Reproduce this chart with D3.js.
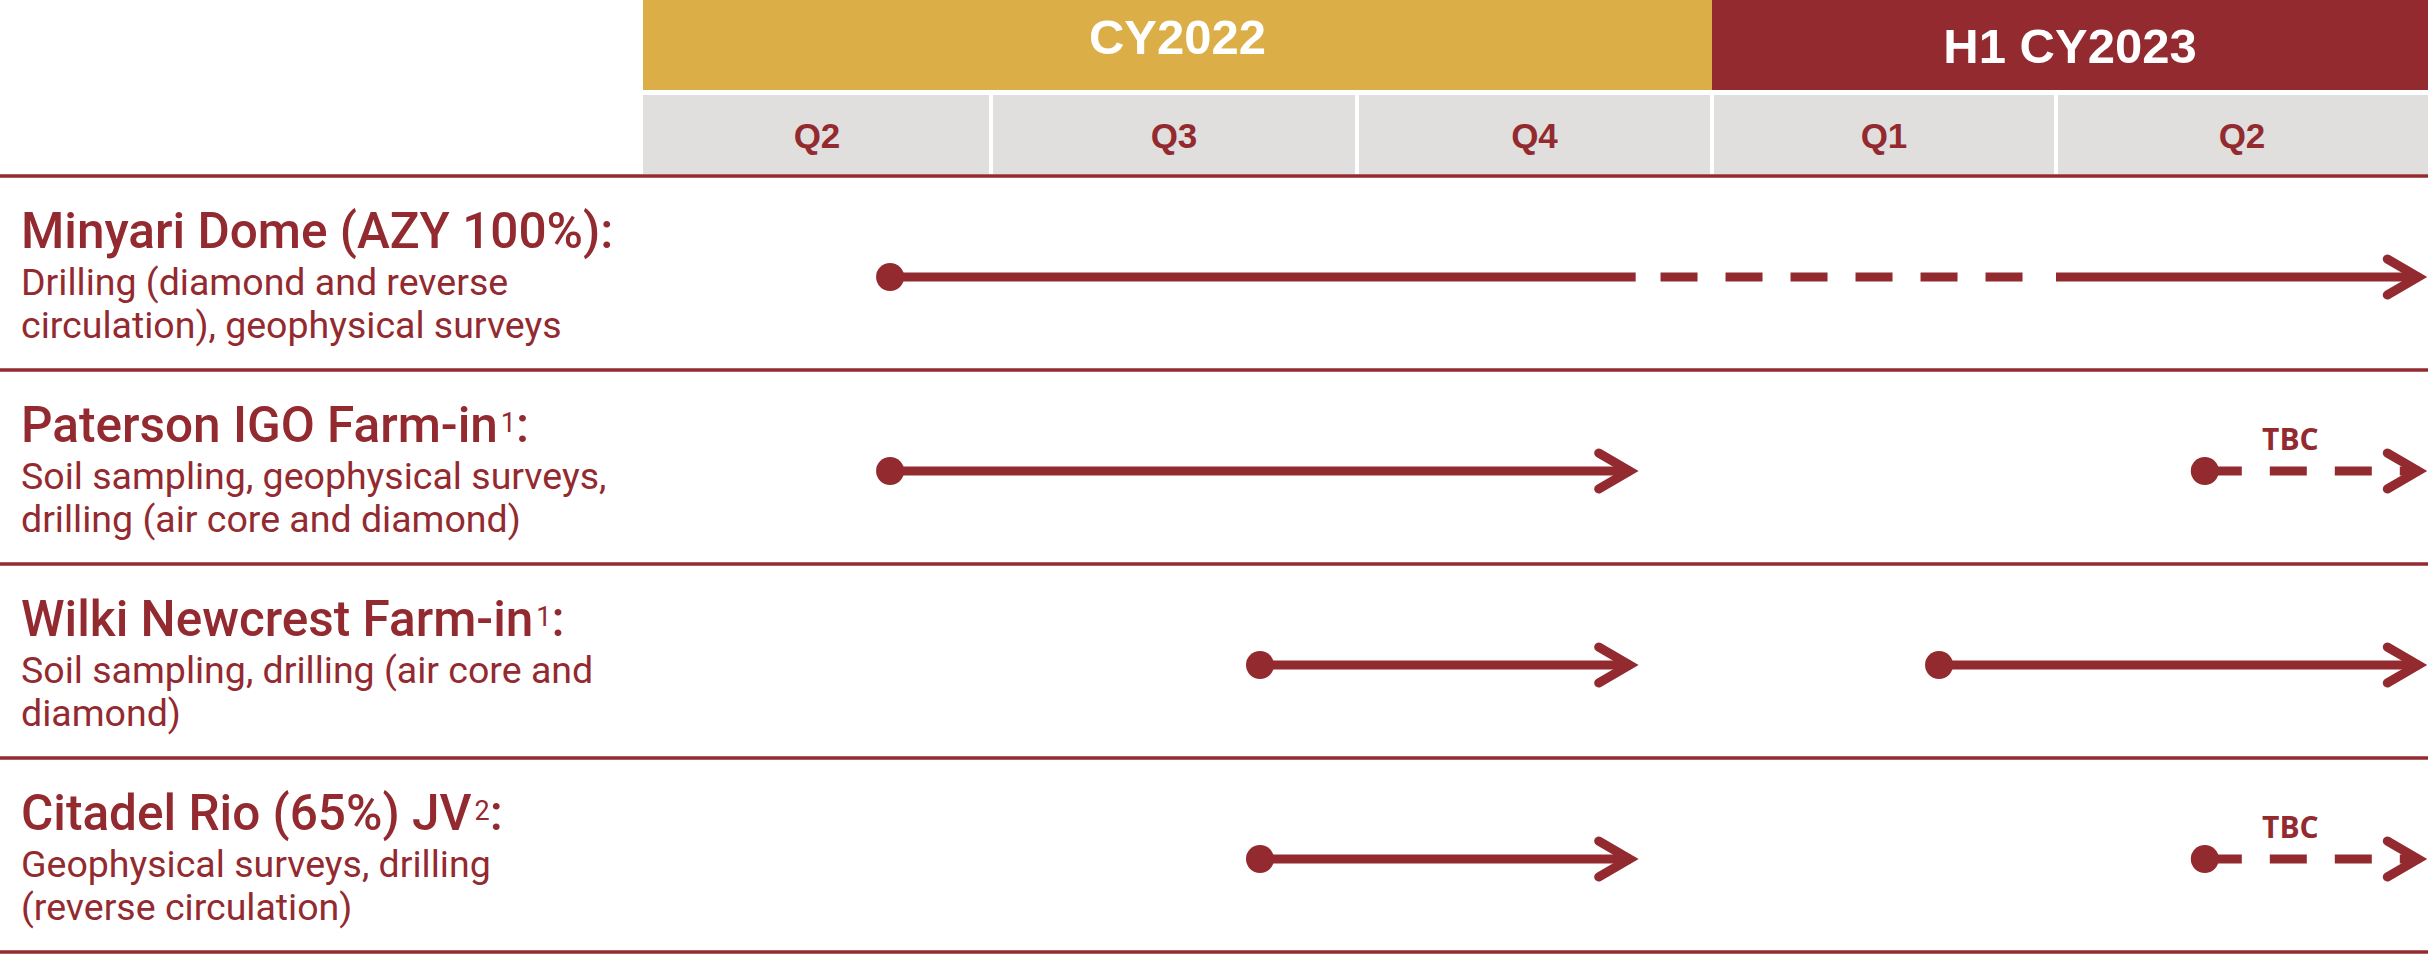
<!DOCTYPE html>
<html>
<head>
<meta charset="utf-8">
<script src="https://cdn.jsdelivr.net/npm/d3@7"></script>
<style>
  body { margin: 0; background: #fff; }
  svg { display: block; }
</style>
</head>
<body>
<div id="chart"><svg></svg></div>
<script>
// ---- data ----
var periods = ["CY2022", "H1 CY2023"];
var periodSpans = [[0, 3], [3, 5]];           // in quarter units
var quarters = ["Q2", "Q3", "Q4", "Q1", "Q2"];

var projects = ["Minyari Dome (AZY 100%)", "Paterson IGO Farm-in", "Wilki Newcrest Farm-in", "Citadel Rio (65%) JV"];
var footnotes = ["", "1", "1", "2"];
var descriptions = [
	["Drilling (diamond and reverse", "circulation), geophysical surveys"],
	["Soil sampling, geophysical surveys,", "drilling (air core and diamond)"],
	["Soil sampling, drilling (air core and", "diamond)"],
	["Geophysical surveys, drilling", "(reverse circulation)"]
];

// activity segments: project index, start / end in quarters from start of Q2 2022
var segRow   = [0, 0, 0, 1, 1, 2, 2, 3, 3];
var segFrom  = [0.71, 2.855, 4.0, 0.71, 4.4, 1.735, 3.66, 1.735, 4.4];
var segTo    = [2.785, 3.905, 4.99, 2.785, 4.99, 2.785, 4.99, 2.785, 4.99];
var segDot   = [true, false, false, true, true, true, true, true, true];
var segArrow = [false, false, true, true, true, true, true, true, true];
var segTbc   = [false, true, false, false, true, false, false, false, true];
var tbcLabelAt = 4.63;

// ---- layout ----
var width = 2428, height = 954;
var red = "#932a30", gold = "#dcae48", grey = "#e0dfdd";
var colEdges = [643, 991, 1357, 1712, 2056, 2428];
var headTop = 0, headBottom = 90, qTop = 95, qBottom = 174, gridTop = 176;

var svg = d3.select("#chart svg")
	.attr("width", width)
	.attr("height", height);

var x = d3.scaleLinear()
	.domain(d3.range(colEdges.length))
	.range(colEdges);

var y = d3.scaleBand()
	.domain(d3.range(projects.length))
	.range([gridTop, height - 2]);

/* ------- YEAR HEADERS ------- */
var heads = svg.append("g").attr("class", "periods")
	.selectAll("g").data(periods).enter().append("g");

heads.append("rect")
	.attr("x", function(d, i) { return x(periodSpans[i][0]); })
	.attr("y", headTop)
	.attr("width", function(d, i) { return x(periodSpans[i][1]) - x(periodSpans[i][0]); })
	.attr("height", headBottom - headTop)
	.style("fill", function(d, i) { return i == 0 ? gold : red; });

heads.append("text")
	.attr("x", function(d, i) { return (x(periodSpans[i][0]) + x(periodSpans[i][1])) / 2; })
	.attr("y", function(d, i) { return i == 0 ? 54 : 63; })
	.attr("text-anchor", "middle")
	.style("font-family", "'Liberation Sans', Arial, sans-serif")
	.style("font-weight", "bold")
	.style("font-size", "49px")
	.style("fill", "#fff")
	.text(function(d) { return d; });

/* ------- QUARTER HEADERS ------- */
var q = svg.append("g").attr("class", "quarters")
	.selectAll("g").data(quarters).enter().append("g");

q.append("rect")
	.attr("x", function(d, i) { return x(i) + (i == 0 ? 0 : 2); })
	.attr("y", qTop)
	.attr("width", function(d, i) { return x(i + 1) - x(i) - (i == 0 ? 2 : 4) + (i == quarters.length - 1 ? 2 : 0); })
	.attr("height", qBottom - qTop)
	.style("fill", grey);

q.append("text")
	.attr("x", function(d, i) { return (x(i) + x(i + 1)) / 2; })
	.attr("y", 148)
	.attr("text-anchor", "middle")
	.style("font-family", "'Liberation Sans', Arial, sans-serif")
	.style("font-weight", "bold")
	.style("font-size", "35px")
	.style("fill", red)
	.text(function(d) { return d; });

/* ------- ROW DIVIDERS ------- */
var dividers = [gridTop].concat(projects.map(function(d, i) { return y(i) + y.bandwidth(); }));
svg.append("g").attr("class", "dividers")
	.selectAll("line").data(dividers).enter().append("line")
	.attr("x1", 0).attr("x2", width)
	.attr("y1", function(d) { return d; })
	.attr("y2", function(d) { return d; })
	.style("stroke", red)
	.style("stroke-width", 3.5);

/* ------- PROJECT LABELS ------- */
var labels = svg.append("g").attr("class", "labels")
	.selectAll("g").data(projects).enter().append("g")
	.attr("transform", function(d, i) { return "translate(21," + y(i) + ")"; })
	.style("font-family", "Roboto, 'Liberation Sans', sans-serif")
	.style("fill", red);

var title = labels.append("text")
	.attr("y", 72)
	.style("font-size", "49.5px")
	.style("font-weight", 500);

title.append("tspan")
	.text(function(d, i) { return footnotes[i] ? d : d + ":"; });

title.filter(function(d, i) { return footnotes[i]; })
	.append("tspan")
	.attr("dx", 3)
	.attr("dy", -10)
	.style("font-size", "27px")
	.style("font-weight", 400)
	.text(function(d) { return footnotes[projects.indexOf(d)]; });

title.filter(function(d, i) { return footnotes[i]; })
	.append("tspan")
	.attr("dy", 10)
	.text(":");

labels.each(function(d, i) {
	d3.select(this).selectAll("text.desc")
		.data(descriptions[i]).enter().append("text")
		.attr("class", "desc")
		.attr("y", function(t, j) { return 119 + j * 43; })
		.style("font-size", "37.5px")
		.text(function(t) { return t; });
});

/* ------- ACTIVITY ARROWS ------- */
var segs = d3.range(segRow.length);
var mid = function(s) { return y(segRow[s]) + 101; };

var acts = svg.append("g").attr("class", "activities")
	.selectAll("g").data(segs).enter().append("g");

acts.append("line")
	.attr("x1", function(s) { return x(segFrom[s]); })
	.attr("x2", function(s) { return x(segTo[s]) - (segArrow[s] ? 5 : 0); })
	.attr("y1", mid).attr("y2", mid)
	.style("stroke", red)
	.style("stroke-width", 9)
	.style("stroke-dasharray", function(s) { return segTbc[s] ? "37 28" : null; });

acts.filter(function(s) { return segDot[s]; })
	.append("circle")
	.attr("cx", function(s) { return x(segFrom[s]); })
	.attr("cy", mid)
	.attr("r", 14)
	.style("fill", red);

acts.filter(function(s) { return segArrow[s]; })
	.append("path")
	.attr("d", function(s) {
		var tx = x(segTo[s]) - 6, ty = mid(s);
		return "M" + (tx - 31) + "," + (ty - 18) + "L" + tx + "," + ty + "L" + (tx - 31) + "," + (ty + 18);
	})
	.style("fill", "none")
	.style("stroke", red)
	.style("stroke-width", 9)
	.style("stroke-linecap", "round")
	.style("stroke-linejoin", "miter");

acts.filter(function(s) { return segTbc[s] && segDot[s]; })
	.append("text")
	.attr("x", x(tbcLabelAt))
	.attr("y", function(s) { return mid(s) - 21; })
	.attr("text-anchor", "middle")
	.style("font-family", "'Open Sans', sans-serif")
	.style("font-weight", "bold")
	.style("font-size", "30px")
	.style("fill", red)
	.text("TBC");
</script>
</body>
</html>
